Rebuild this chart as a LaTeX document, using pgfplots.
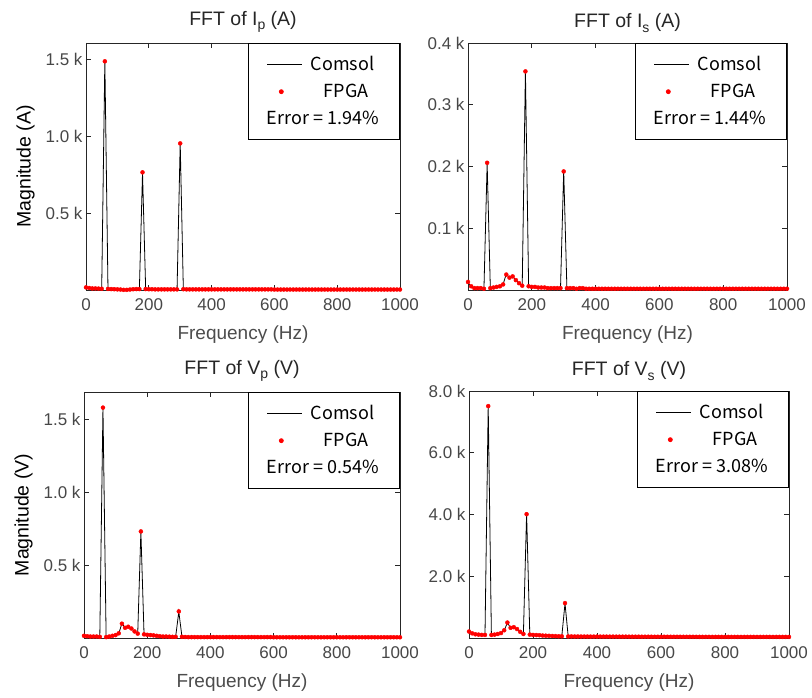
\documentclass[border=0pt]{standalone}
\usepackage{pgfplots}
\usepackage{pgfplotstable}
\pgfplotsset{compat=1.18}
\usepackage{fontspec}
\setmainfont{Liberation Sans}
\newfontfamily\legfont{Noto Sans CJK SC}

\pgfplotstableread[row sep=\\]{
f c p\\
0 18 17\\ 10 12 13\\ 20 11 10\\ 30 10 10\\ 40 9 9\\ 50 8 8\\ 60 1490 1485\\ 70 7 7\\ 80 6 6\\ 90 5 5\\
100 4 4\\ 110 2 3\\ 120 0 1\\ 130 1 1\\ 140 3 3\\ 150 5 5\\ 160 6 6\\ 170 6 6\\ 180 760 764\\ 190 6 6\\
200 5 5\\ 210 5 5\\ 220 4 4\\ 230 4 4\\ 240 4 4\\ 250 4 4\\ 260 4 4\\ 270 4 4\\ 280 4 4\\ 290 4 4\\
300 955 952\\ 310 5 5\\ 320 4 4\\ 330 4 4\\ 340 4 4\\ 350 4 4\\ 360 4 4\\ 370 4 4\\ 380 4 4\\ 390 4 4\\
400 4 4\\ 410 4 4\\ 420 4 4\\ 430 4 4\\ 440 4 4\\ 450 4 4\\ 460 4 4\\ 470 4 4\\ 480 4 4\\ 490 4 4\\
500 4 4\\ 510 4 4\\ 520 4 4\\ 530 4 4\\ 540 4 4\\ 550 4 4\\ 560 4 4\\ 570 4 4\\ 580 4 4\\ 590 4 4\\
600 3 3\\ 610 3 3\\ 620 3 3\\ 630 3 3\\ 640 3 3\\ 650 3 3\\ 660 3 3\\ 670 3 3\\ 680 3 3\\ 690 3 3\\
700 3 3\\ 710 3 3\\ 720 3 3\\ 730 3 3\\ 740 3 3\\ 750 3 3\\ 760 3 3\\ 770 3 3\\ 780 3 3\\ 790 3 3\\
800 3 3\\ 810 3 3\\ 820 3 3\\ 830 3 3\\ 840 3 3\\ 850 3 3\\ 860 3 3\\ 870 3 3\\ 880 3 3\\ 890 3 3\\
900 3 3\\ 910 3 3\\ 920 3 3\\ 930 3 3\\ 940 3 3\\ 950 3 3\\ 960 3 3\\ 970 3 3\\ 980 3 3\\ 990 3 3\\
1000 3 3\\
}\tIp

\pgfplotstableread[row sep=\\]{
f c p\\
0 12 13\\ 10 5 6\\ 20 3 3\\ 30 3 3\\ 40 3 3\\ 50 2 2\\ 60 205 206\\ 70 3 3\\ 80 4 4\\ 90 5 5\\
100 6 6\\ 110 9 9\\ 120 26 25\\ 130 20 20\\ 140 22 22\\ 150 16 16\\ 160 11 11\\ 170 7 7\\ 180 355 354\\ 190 6 6\\
200 5 5\\ 210 5 5\\ 220 4 4\\ 230 4 4\\ 240 4 4\\ 250 3 3\\ 260 3 3\\ 270 3 3\\ 280 3 3\\ 290 3 3\\
300 193 192\\ 310 3 3\\ 320 3 3\\ 330 3 3\\ 340 2 2\\ 350 3 3\\ 360 3 3\\ 370 2 2\\ 380 2 2\\ 390 2 2\\
400 2 2\\ 410 2 2\\ 420 2 2\\ 430 2 2\\ 440 2 2\\ 450 2 2\\ 460 2 2\\ 470 2 2\\ 480 2 2\\ 490 2 2\\
500 2 2\\ 510 2 2\\ 520 2 2\\ 530 2 2\\ 540 2 2\\ 550 2 2\\ 560 2 2\\ 570 2 2\\ 580 2 2\\ 590 2 2\\
600 2 2\\ 610 2 2\\ 620 2 2\\ 630 2 2\\ 640 2 2\\ 650 2 2\\ 660 2 2\\ 670 2 2\\ 680 2 2\\ 690 2 2\\
700 2 2\\ 710 2 2\\ 720 2 2\\ 730 2 2\\ 740 2 2\\ 750 2 2\\ 760 2 2\\ 770 2 2\\ 780 2 2\\ 790 2 2\\
800 2 2\\ 810 2 2\\ 820 2 2\\ 830 2 2\\ 840 2 2\\ 850 2 2\\ 860 2 2\\ 870 2 2\\ 880 2 2\\ 890 2 2\\
900 2 2\\ 910 2 2\\ 920 2 2\\ 930 2 2\\ 940 2 2\\ 950 2 2\\ 960 2 2\\ 970 2 2\\ 980 2 2\\ 990 2 2\\
1000 2 2\\
}\tIs

\pgfplotstableread[row sep=\\]{
f c p\\
0 15 15\\ 10 12 12\\ 20 10 10\\ 30 10 10\\ 40 10 10\\ 50 8 8\\ 60 1575 1578\\ 70 6 6\\ 80 10 10\\ 90 15 15\\
100 20 20\\ 110 30 32\\ 120 100 98\\ 130 70 70\\ 140 78 77\\ 150 65 65\\ 160 45 45\\ 170 30 30\\ 180 728 730\\ 190 25 25\\
200 22 22\\ 210 20 20\\ 220 18 18\\ 230 15 15\\ 240 12 12\\ 250 10 10\\ 260 10 10\\ 270 9 9\\ 280 8 8\\ 290 8 8\\
300 180 182\\ 310 8 8\\ 320 7 7\\ 330 6 6\\ 340 6 6\\ 350 6 6\\ 360 6 6\\ 370 6 6\\ 380 6 6\\ 390 6 6\\
400 6 6\\ 410 6 6\\ 420 6 6\\ 430 6 6\\ 440 6 6\\ 450 6 6\\ 460 6 6\\ 470 6 6\\ 480 6 6\\ 490 6 6\\
500 6 6\\ 510 6 6\\ 520 6 6\\ 530 6 6\\ 540 6 6\\ 550 6 6\\ 560 6 6\\ 570 6 6\\ 580 6 6\\ 590 6 6\\
600 5 5\\ 610 5 5\\ 620 5 5\\ 630 5 5\\ 640 5 5\\ 650 5 5\\ 660 5 5\\ 670 5 5\\ 680 5 5\\ 690 5 5\\
700 5 5\\ 710 5 5\\ 720 5 5\\ 730 5 5\\ 740 5 5\\ 750 5 5\\ 760 5 5\\ 770 5 5\\ 780 5 5\\ 790 5 5\\
800 5 5\\ 810 5 5\\ 820 5 5\\ 830 5 5\\ 840 5 5\\ 850 5 5\\ 860 5 5\\ 870 5 5\\ 880 5 5\\ 890 5 5\\
900 5 5\\ 910 5 5\\ 920 5 5\\ 930 5 5\\ 940 5 5\\ 950 5 5\\ 960 5 5\\ 970 5 5\\ 980 5 5\\ 990 5 5\\
1000 5 5\\
}\tVp

\pgfplotstableread[row sep=\\]{
f c p\\
0 200 210\\ 10 150 150\\ 20 120 120\\ 30 110 110\\ 40 100 100\\ 50 100 100\\ 60 7520 7510\\ 70 100 100\\ 80 110 110\\ 90 130 130\\
100 160 160\\ 110 250 250\\ 120 490 500\\ 130 330 330\\ 140 350 350\\ 150 290 290\\ 160 200 200\\ 170 130 130\\ 180 4020 4010\\ 190 110 110\\
200 100 100\\ 210 95 95\\ 220 90 90\\ 230 80 80\\ 240 75 75\\ 250 70 70\\ 260 65 65\\ 270 60 60\\ 280 55 55\\ 290 55 55\\
300 1120 1130\\ 310 50 50\\ 320 50 50\\ 330 48 48\\ 340 48 48\\ 350 47 47\\ 360 46 46\\ 370 46 46\\ 380 45 45\\ 390 45 45\\
400 45 45\\ 410 45 45\\ 420 44 44\\ 430 44 44\\ 440 44 44\\ 450 44 44\\ 460 43 43\\ 470 43 43\\ 480 43 43\\ 490 43 43\\
500 42 42\\ 510 42 42\\ 520 42 42\\ 530 42 42\\ 540 41 41\\ 550 41 41\\ 560 41 41\\ 570 41 41\\ 580 40 40\\ 590 40 40\\
600 40 40\\ 610 40 40\\ 620 40 40\\ 630 39 39\\ 640 39 39\\ 650 39 39\\ 660 39 39\\ 670 38 38\\ 680 38 38\\ 690 38 38\\
700 38 38\\ 710 37 37\\ 720 37 37\\ 730 37 37\\ 740 37 37\\ 750 36 36\\ 760 36 36\\ 770 36 36\\ 780 36 36\\ 790 35 35\\
800 35 35\\ 810 35 35\\ 820 35 35\\ 830 35 35\\ 840 35 35\\ 850 35 35\\ 860 35 35\\ 870 35 35\\ 880 35 35\\ 890 35 35\\
900 35 35\\ 910 35 35\\ 920 35 35\\ 930 35 35\\ 940 35 35\\ 950 35 35\\ 960 35 35\\ 970 35 35\\ 980 35 35\\ 990 35 35\\
1000 35 35\\
}\tVs

\pgfplotsset{
  fftax/.style={
    scale only axis, clip=false,
    xmin=0, xmax=1000, ymin=0,
    xtick={0,200,400,600,800,1000},
    xticklabels={0,200,400,600,800,1000},
    axis line style={black!85, line width=0.8pt},
    tick style={black!85, line width=0.8pt},
    major tick length=5pt,
    tick label style={font=\fontsize{17}{19}\selectfont, text=black!72},
    xticklabel style={yshift=-5pt},
    /pgf/number format/assume math mode=true,
    xlabel={Frequency (Hz)},
    xlabel style={font=\fontsize{19}{21}\selectfont, text=black!70, yshift=-8pt},
    ylabel style={font=\fontsize{19.5}{21}\selectfont, text=black, yshift=4pt},
    title style={font=\fontsize{19.5}{21}\selectfont, text=black!85, yshift=1pt},
    legend style={at={(1,1)}, anchor=north east, draw=black, line width=0.8pt,
      font=\legfont\fontsize{18}{20}\selectfont, fill=white,
      inner xsep=19pt, inner ysep=11pt, row sep=8pt, column sep=6pt},
    legend cell align=left,
  },
  comsol/.style={black, line width=0.8pt,
    legend image code/.code={\draw[black, line width=0.8pt] (0pt,0pt) -- (35pt,0pt);}},
  fpga/.style={only marks, mark=*, mark size=2pt, color=red,
    mark options={draw=red, fill=red},
    legend image code/.code={\fill[red] (14pt,0pt) circle (2pt);}},
}
\newcommand{\sub}[1]{\raisebox{-4.5pt}{\fontsize{14}{14}\selectfont #1}}

\begin{document}
\begin{tikzpicture}
\path[use as bounding box] (0,0) rectangle (812pt,698pt);

\begin{axis}[fftax, at={(86pt,408pt)}, anchor=south west, width=314pt, height=247pt,
  ymax=1604, ytick={500,1000,1500}, yticklabels={0.5 k,1.0 k,1.5 k},
  ylabel={Magnitude (A)}, title={FFT of I\sub{p} (A)}]
\addplot[fpga, forget plot] table[x=f,y=p]{\tIp};
\addplot[comsol] table[x=f,y=c]{\tIp}; \addlegendentry{Comsol}
\addlegendimage{fpga}\addlegendentry{\hspace{13pt}FPGA}
\addlegendimage{empty legend}\addlegendentry{\hspace{-44pt}Error = 1.94\%}
\end{axis}

\begin{axis}[fftax, at={(468pt,408pt)}, anchor=south west, width=319pt, height=247pt,
  ymax=400, ytick={100,200,300,400}, yticklabels={0.1 k,0.2 k,0.3 k,0.4 k},
  title={FFT of I\sub{s} (A)}]
\addplot[fpga, forget plot] table[x=f,y=p]{\tIs};
\addplot[comsol] table[x=f,y=c]{\tIs}; \addlegendentry{Comsol}
\addlegendimage{fpga}\addlegendentry{\hspace{13pt}FPGA}
\addlegendimage{empty legend}\addlegendentry{\hspace{-44pt}Error = 1.44\%}
\end{axis}

\begin{axis}[fftax, at={(84pt,60pt)}, anchor=south west, width=316pt, height=246pt,
  ymax=1685, ytick={500,1000,1500}, yticklabels={0.5 k,1.0 k,1.5 k},
  ylabel={Magnitude (V)}, title={FFT of V\sub{p} (V)}]
\addplot[fpga, forget plot] table[x=f,y=p]{\tVp};
\addplot[comsol] table[x=f,y=c]{\tVp}; \addlegendentry{Comsol}
\addlegendimage{fpga}\addlegendentry{\hspace{13pt}FPGA}
\addlegendimage{empty legend}\addlegendentry{\hspace{-44pt}Error = 0.54\%}
\end{axis}

\begin{axis}[fftax, at={(469pt,60pt)}, anchor=south west, width=320pt, height=247pt,
  ymax=8000, ytick={2000,4000,6000,8000}, yticklabels={2.0 k,4.0 k,6.0 k,8.0 k},
  title={FFT of V\sub{s} (V)}]
\addplot[fpga, forget plot] table[x=f,y=p]{\tVs};
\addplot[comsol] table[x=f,y=c]{\tVs}; \addlegendentry{Comsol}
\addlegendimage{fpga}\addlegendentry{\hspace{13pt}FPGA}
\addlegendimage{empty legend}\addlegendentry{\hspace{-44pt}Error = 3.08\%}
\end{axis}
\end{tikzpicture}
\end{document}
